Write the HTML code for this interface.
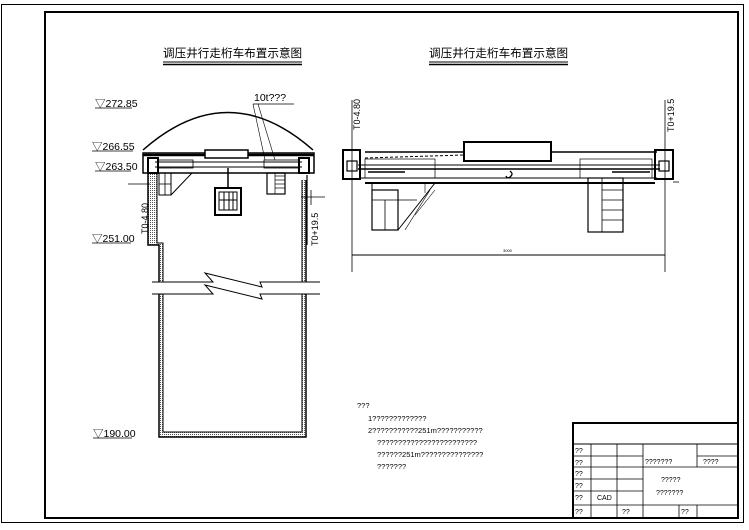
<!DOCTYPE html>
<html><head><meta charset="utf-8"><style>
html,body{margin:0;padding:0;background:#fff}
svg{display:block}
text{font-family:"Liberation Sans","Noto Sans CJK SC",sans-serif;fill:#000}
</style></head><body>
<svg width="749" height="530" viewBox="0 0 749 530" xmlns="http://www.w3.org/2000/svg">
<defs>
<pattern id="dots" width="2" height="2" patternUnits="userSpaceOnUse"><rect width="1" height="1" fill="#555"/></pattern>
</defs>
<rect width="749" height="530" fill="#fff"/>
<rect x="1.5" y="4.5" width="742" height="518" fill="none" stroke="#000" stroke-width="1"/>
<rect x="45" y="12" width="693" height="506" fill="none" stroke="#000" stroke-width="2"/>

<text x="163" y="57" font-size="11.6">调压井行走桁车布置示意图</text>
<line x1="163" y1="62" x2="302" y2="62" stroke="#000" stroke-width="1"/>
<line x1="163" y1="64.5" x2="302" y2="64.5" stroke="#000" stroke-width="1.5"/>
<text x="429" y="57" font-size="11.6">调压井行走桁车布置示意图</text>
<line x1="429" y1="62" x2="568" y2="62" stroke="#000" stroke-width="1"/>
<line x1="429" y1="64.5" x2="568" y2="64.5" stroke="#000" stroke-width="1.5"/>

<!-- wall hatch -->
<path d="M148,173 V245 H159 V437 H306 V180 H302 V432 H163 V243 H157 V173 Z" fill="url(#dots)" stroke="none"/>
<rect x="302" y="180" width="4" height="60" fill="url(#dots)"/>

<g stroke="#000" fill="none">
<g stroke-width="0.8">
<line x1="95" y1="108" x2="132" y2="108"/>
<line x1="92" y1="151" x2="133" y2="151"/>
<line x1="95" y1="171" x2="131" y2="171"/>
<line x1="92" y1="243" x2="131" y2="243"/>
<line x1="93" y1="438" x2="132" y2="438"/>
</g>
<path d="M143,150 Q228,75 313,150" stroke-width="1.5"/>
<rect x="143" y="153" width="171" height="20" stroke-width="1.5"/>
<line x1="143" y1="155" x2="314" y2="155" stroke-width="2.5"/>
<line x1="155" y1="162" x2="302" y2="162" stroke-width="1"/>
<line x1="155" y1="167" x2="302" y2="167" stroke-width="1"/>
<rect x="148" y="158" width="10" height="15" stroke-width="2"/>
<rect x="299" y="158" width="10" height="15" stroke-width="2"/>
<rect x="205" y="150" width="43" height="8" stroke-width="1.5" fill="#fff"/>
<rect x="158" y="160" width="35" height="8" stroke-width="0.8"/>
<rect x="264" y="160" width="35" height="8" stroke-width="0.8"/>
<rect x="159" y="173" width="12" height="22" stroke-width="1"/>
<path d="M171,173 L192,173 L171,195" stroke-width="1"/>
<line x1="165" y1="173" x2="165" y2="195" stroke-width="0.8"/>
<line x1="159" y1="184" x2="171" y2="184" stroke-width="0.8"/>
<rect x="267" y="173" width="18" height="21" stroke-width="1.2"/>
<line x1="275" y1="176" x2="285" y2="176" stroke-width="0.7"/>
<line x1="275" y1="180" x2="285" y2="180" stroke-width="0.7"/>
<line x1="275" y1="184" x2="285" y2="184" stroke-width="0.7"/>
<line x1="275" y1="188" x2="285" y2="188" stroke-width="0.7"/>
<line x1="275" y1="173" x2="275" y2="194" stroke-width="0.7"/>
<line x1="228" y1="168" x2="228" y2="188" stroke-width="1.5"/>
<rect x="215" y="188" width="26" height="27" stroke-width="2"/>
<rect x="219" y="192" width="18" height="18" stroke-width="1" />
<line x1="224" y1="192" x2="224" y2="210" stroke-width="1"/>
<line x1="229" y1="192" x2="229" y2="210" stroke-width="1"/>
<line x1="233" y1="192" x2="233" y2="210" stroke-width="1"/>
<line x1="219" y1="200" x2="237" y2="200" stroke-width="1"/>
<path d="M148,173 V245 H159 V437 H306 V180" stroke-width="1.5"/>
<path d="M157,173 V243 H163 V432 H302 V180" stroke-width="1"/>
<line x1="307" y1="175" x2="307" y2="245" stroke-width="1.2"/>
<rect x="152" y="282" width="168" height="12" fill="#fff" stroke="none"/>
<path d="M152,282 H213 L205,273 L262,287 L260,282 H320" stroke-width="1" fill="#fff"/>
<path d="M152,294 H213 L205,285 L262,299 L260,294 H320" stroke-width="1" fill="#fff"/>
<line x1="128" y1="184" x2="150" y2="184" stroke-width="0.8"/>
<line x1="301" y1="197" x2="325" y2="197" stroke-width="0.8"/>
<line x1="311" y1="190" x2="311" y2="205" stroke-width="0.8"/>
<line x1="253" y1="104" x2="294" y2="104" stroke-width="0.8"/>
<line x1="253" y1="104" x2="265" y2="160" stroke-width="0.6"/>
<line x1="258" y1="104" x2="275" y2="160" stroke-width="0.6"/>
</g>
<g font-size="10.5">
<text x="95" y="107">▽272.85</text>
<text x="92" y="150">▽266.55</text>
<text x="95" y="170">▽263.50</text>
<text x="92" y="242">▽251.00</text>
<text x="93" y="437">▽190.00</text>
<text x="254" y="101">10t???</text>
</g>
<text font-size="9" transform="translate(148,234) rotate(-90)">T0-4.80</text>
<text font-size="9" transform="translate(318,246) rotate(-90)">T0+19.5</text>

<g stroke="#000" fill="none">
<line x1="352" y1="100" x2="352" y2="272" stroke-width="0.8"/>
<line x1="665" y1="100" x2="665" y2="272" stroke-width="0.8"/>
<line x1="352" y1="255" x2="665" y2="255" stroke-width="1"/>
<rect x="464" y="142" width="87" height="19" stroke-width="2" fill="#fff"/>
<line x1="365" y1="152" x2="464" y2="152" stroke-width="1.5"/>
<line x1="551" y1="152" x2="657" y2="152" stroke-width="1.5"/>
<line x1="365" y1="158" x2="464" y2="155" stroke-width="1" stroke-dasharray="3,2"/>
<line x1="358" y1="165" x2="660" y2="165" stroke-width="1"/>
<line x1="358" y1="169" x2="660" y2="169" stroke-width="1.5"/>
<line x1="360" y1="178" x2="657" y2="178" stroke-width="1"/>
<line x1="365" y1="183" x2="655" y2="183" stroke-width="2"/>
<line x1="478" y1="161" x2="538" y2="161" stroke-width="2"/>
<rect x="343" y="150" width="17" height="29" stroke-width="2"/>
<rect x="347" y="161" width="10" height="10" stroke-width="1.2"/>
<rect x="655" y="150" width="18" height="29" stroke-width="2"/>
<rect x="659" y="161" width="10" height="10" stroke-width="1.2"/>
<rect x="365" y="159" width="70" height="19" stroke-width="0.7"/>
<rect x="580" y="159" width="72" height="19" stroke-width="0.7"/>
<line x1="368" y1="172" x2="405" y2="172" stroke-width="1.5"/>
<line x1="612" y1="172" x2="650" y2="172" stroke-width="1.5"/>
<path d="M510,171 q4,3 0,6 q-3,2 -4,-1" stroke-width="1.3"/>
<rect x="372" y="190" width="26" height="40" stroke-width="1.2"/>
<line x1="385" y1="200" x2="385" y2="230" stroke-width="0.8"/>
<line x1="372" y1="200" x2="417" y2="200" stroke-width="0.8"/>
<path d="M372,183 L372,190 M398,230 L435,183" stroke-width="1"/>
<line x1="405" y1="230" x2="430" y2="190" stroke-width="0.6"/>
<line x1="415" y1="215" x2="435" y2="190" stroke-width="0.6"/>
<line x1="425" y1="193" x2="425" y2="183" stroke-width="0.6"/>
<rect x="588" y="178" width="35" height="54" stroke-width="1.2"/>
<line x1="602" y1="178" x2="602" y2="232" stroke-width="0.8"/>
<line x1="602" y1="190" x2="623" y2="190" stroke-width="0.7"/>
<line x1="602" y1="200" x2="623" y2="200" stroke-width="0.7"/>
<line x1="602" y1="210" x2="623" y2="210" stroke-width="0.7"/>
<line x1="602" y1="220" x2="623" y2="220" stroke-width="0.7"/>
<line x1="673" y1="182" x2="679" y2="182" stroke-width="0.8"/>
</g>
<text font-size="4" x="503" y="252">3000</text>
<text font-size="9" transform="translate(360,130) rotate(-90)">T0-4.80</text>
<text font-size="9" transform="translate(674,132) rotate(-90)">T0+19.5</text>

<g font-size="7.5">
<text x="357" y="408">???</text>
<text x="368" y="421">1?????????????</text>
<text x="368" y="433">2???????????251m???????????</text>
<text x="377" y="445">????????????????????????</text>
<text x="377" y="457">??????251m???????????????</text>
<text x="377" y="469">???????</text>
</g>

<g stroke="#000" fill="none">
<rect x="573" y="423" width="165" height="95" stroke-width="2"/>
<line x1="573" y1="444" x2="738" y2="444" stroke-width="1"/>
<line x1="573" y1="456" x2="643" y2="456" stroke-width="0.8"/>
<line x1="697" y1="456" x2="738" y2="456" stroke-width="0.8"/>
<line x1="573" y1="467" x2="738" y2="467" stroke-width="0.8"/>
<line x1="573" y1="479" x2="643" y2="479" stroke-width="0.8"/>
<line x1="573" y1="491" x2="643" y2="491" stroke-width="0.8"/>
<line x1="573" y1="505" x2="738" y2="505" stroke-width="0.8"/>
<line x1="591" y1="444" x2="591" y2="518" stroke-width="0.8"/>
<line x1="617" y1="444" x2="617" y2="518" stroke-width="0.8"/>
<line x1="643" y1="444" x2="643" y2="518" stroke-width="0.8"/>
<line x1="697" y1="444" x2="697" y2="467" stroke-width="0.8"/>
<line x1="697" y1="505" x2="697" y2="518" stroke-width="0.8"/>
<line x1="679" y1="505" x2="679" y2="518" stroke-width="0.8"/>
</g>
<g font-size="7">
<text x="575" y="453">??</text>
<text x="575" y="465">??</text>
<text x="575" y="476">??</text>
<text x="575" y="488">??</text>
<text x="575" y="500">??</text>
<text x="575" y="514">??</text>
<text x="597" y="500">CAD</text>
<text x="622" y="514">??</text>
<text x="681" y="514">??</text>
<text x="645" y="464">???????</text>
<text x="703" y="464">????</text>
<text x="661" y="482">?????</text>
<text x="656" y="495">???????</text>
</g>
</svg>
</body></html>
